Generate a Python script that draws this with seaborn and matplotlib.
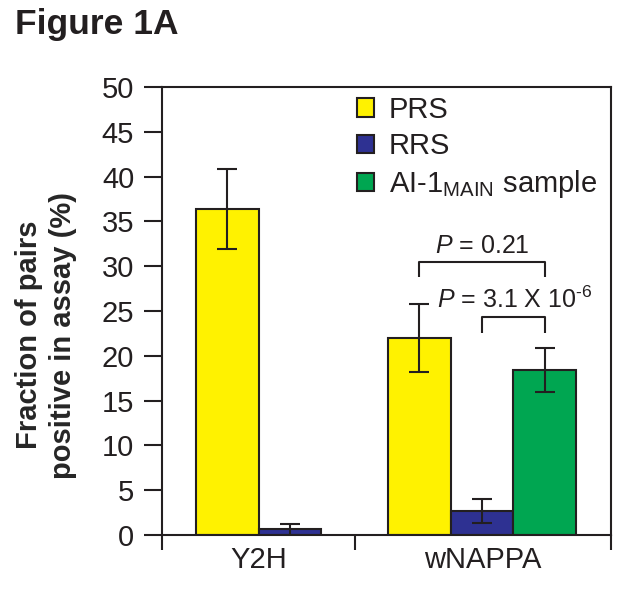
import matplotlib
matplotlib.use("Agg")
import matplotlib.pyplot as plt
import seaborn as sns
import pandas as pd

# ---- data ----
assays = ["Y2H", "Y2H", "wNAPPA", "wNAPPA", "wNAPPA"]
samples = ["PRS", "RRS", "PRS", "RRS", "AI-1"]
values = [36.4, 0.65, 22.0, 2.65, 18.4]
errors = [4.45, 0.6, 3.8, 1.35, 2.45]
assay_order = ["Y2H", "wNAPPA"]
sample_order = ["PRS", "RRS", "AI-1"]
legend_labels = ["PRS", "RRS", r"AI-1$_{\mathregular{MAIN}}$ sample"]
colors = ["#FFF200", "#2E3192", "#00A651"]
yticks = [0, 5, 10, 15, 20, 25, 30, 35, 40, 45, 50]
p_texts = [r"$P$ = 0.21", r"$P$ = 3.1 X 10$^{\text{-6}}$"]

INK = "#231F20"
sns.set_theme(style="ticks")
plt.rcParams["font.family"] = ["Liberation Sans", "DejaVu Sans"]
plt.rcParams["mathtext.fontset"] = "custom"
plt.rcParams["mathtext.rm"] = "Liberation Sans"
plt.rcParams["mathtext.it"] = "Liberation Sans:italic"
plt.rcParams["mathtext.bf"] = "Liberation Sans:bold"
plt.rcParams["text.color"] = INK
plt.rcParams["axes.edgecolor"] = INK
plt.rcParams["xtick.color"] = INK
plt.rcParams["ytick.color"] = INK

df = pd.DataFrame({"assay": assays, "sample": samples, "value": values, "err": errors})

fig = plt.figure(figsize=(6.24, 5.95), dpi=100)
ax = fig.add_axes([162 / 624, 1 - 535 / 595, (611 - 162) / 624, (535 - 87) / 595])

sns.barplot(data=df, x="assay", y="value", hue="sample", order=assay_order,
            hue_order=sample_order, palette=colors, saturation=1, width=0.98,
            errorbar=None, edgecolor=INK, linewidth=1.5, ax=ax, zorder=2)

# error bars located on the drawn bars
for p in ax.patches:
    h = p.get_height()
    match = df.iloc[(df["value"] - h).abs().argmin()]
    if abs(match["value"] - h) < 1e-6:
        xc = p.get_x() + p.get_width() / 2
        ax.errorbar(xc, h, yerr=match["err"], fmt="none", ecolor=INK,
                    elinewidth=1.5, capsize=7.5, capthick=1.5, zorder=3)

ax.set_ylim(0, 50)
ax.set_yticks(yticks)
ax.tick_params(axis="y", which="major", length=13, width=1.5, pad=7, labelsize=21,
               direction="out", left=True, right=False)
for s in ax.spines.values():
    s.set_linewidth(1.5)
    s.set_color(INK)

xl, xr, xm = -0.667, 1.672, 0.339
ax.set_xlim(xl, xr)
ax.set_xticks([xl, xm, xr])
ax.set_xticklabels([])
ax.set_xticks([(xl + xm) / 2, (xm + xr) / 2], minor=True)
ax.set_xticklabels(assay_order, minor=True)
ax.tick_params(axis="x", which="major", length=11, width=1.5, direction="out",
               bottom=True, top=False)
ax.tick_params(axis="x", which="minor", length=0, pad=8, labelsize=21)
ax.set_xlabel("")

ax.set_ylabel("Fraction of pairs\npositive in assay (%)", fontsize=21,
              fontweight="bold", ha="center", va="center", linespacing=1.3)
ax.yaxis.set_label_coords(-0.258, 0.446)

# legend
handles, _ = ax.get_legend_handles_labels()
for hnd in handles:
    hnd.set_edgecolor(INK)
    hnd.set_linewidth(1.5)
ax.legend(handles, legend_labels, loc="upper left", bbox_to_anchor=(0.434, 0.98),
          frameon=False, fontsize=21, handlelength=0.6, handleheight=0.6,
          handletextpad=0.5, labelspacing=0.28, borderpad=0, borderaxespad=0)

# significance brackets (x: bar centres within wNAPPA group)
bw = 0.98 / 3
x_prs, x_rrs, x_ai = 1 - bw, 1.0, 1 + bw
ax.plot([x_prs, x_prs, x_ai, x_ai], [28.8, 30.5, 30.5, 28.8], color=INK, lw=1.5,
        solid_capstyle="butt", zorder=4)
ax.plot([x_rrs, x_rrs, x_ai, x_ai], [22.6, 24.3, 24.3, 22.6], color=INK, lw=1.5,
        solid_capstyle="butt", zorder=4)
ax.text(1.0, 31.5, p_texts[0], ha="center", va="baseline", fontsize=18)
ax.text(0.766, 25.3, p_texts[1], ha="left", va="baseline", fontsize=18)

fig.text(15 / 624, 1 - 8 / 595, "Figure 1A", fontsize=25.5, fontweight="bold",
         ha="left", va="top")

fig.savefig("out.png", dpi=100)
